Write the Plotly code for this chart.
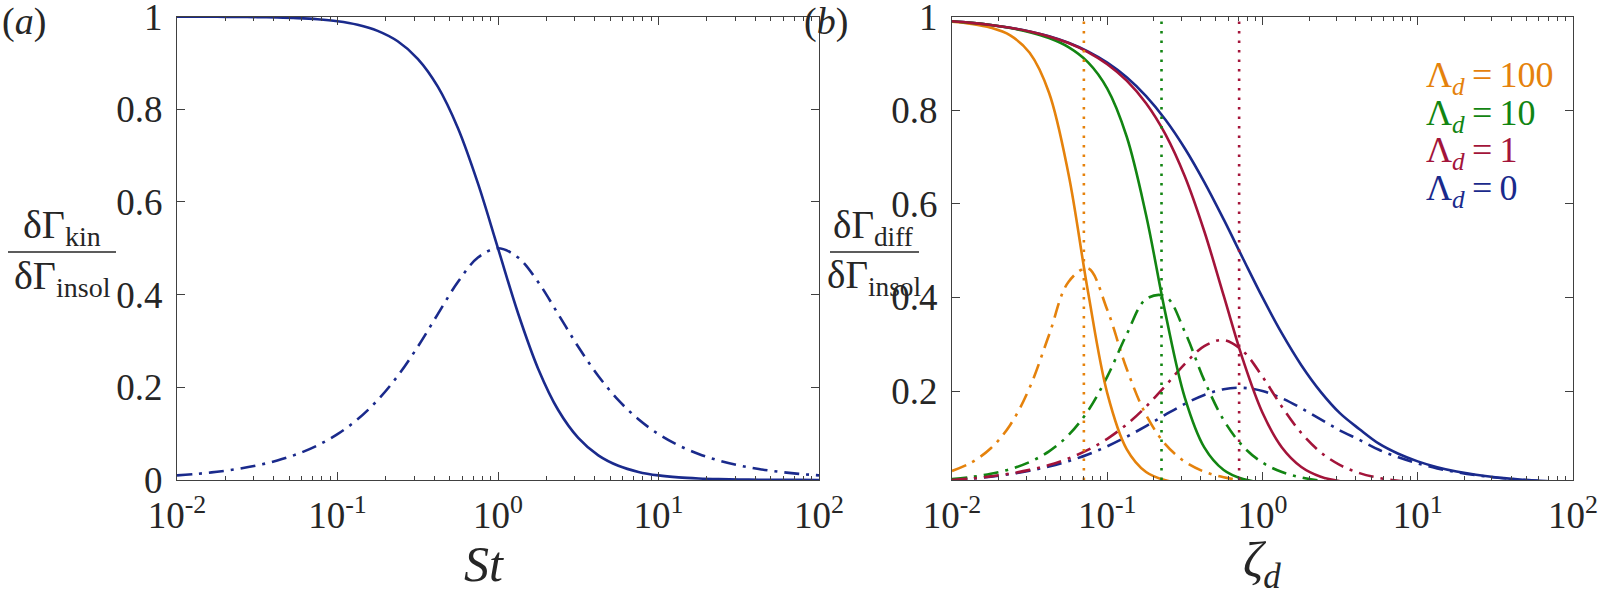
import plotly.graph_objects as go

# ---------------- data ----------------
ST = [0.01, 0.013335, 0.017783, 0.023714, 0.031623, 0.04217, 0.056234, 0.074989,
      0.1, 0.13335, 0.17783, 0.23714, 0.31623, 0.4217, 0.56234, 0.74989,
      1.0, 1.3335, 1.7783, 2.3714, 3.1623, 4.217, 5.6234, 7.4989,
      10.0, 13.335, 17.783, 23.714, 31.623, 42.17, 56.234, 74.989, 100.0]
KIN_SOLID = [0.9999, 0.9998, 0.9997, 0.9994, 0.9990, 0.9982, 0.9968, 0.9944,
             0.9901, 0.9825, 0.9693, 0.9468, 0.9091, 0.8490, 0.7597, 0.6401,
             0.5000, 0.3599, 0.2403, 0.1510, 0.0909, 0.0532, 0.0307, 0.0175,
             0.0099, 0.0056, 0.0032, 0.0018, 0.0010, 0.0006, 0.0003, 0.0002, 0.0001]
KIN_DASHDOT = [0.0100, 0.0133, 0.0178, 0.0237, 0.0316, 0.0421, 0.0561, 0.0746,
               0.0990, 0.1310, 0.1724, 0.2245, 0.2875, 0.3580, 0.4272, 0.4800,
               0.5000, 0.4800, 0.4272, 0.3580, 0.2875, 0.2245, 0.1724, 0.1310,
               0.0990, 0.0746, 0.0561, 0.0421, 0.0316, 0.0237, 0.0178, 0.0133, 0.0100]

ZETA = ST[:]  # same logarithmic sampling for panel (b)

# Lambda_d = 0
DIFF_L0_SOLID = [0.9900, 0.9867, 0.9822, 0.9763, 0.9684, 0.9580, 0.9441, 0.9257,
                 0.9016, 0.8703, 0.8301, 0.7797, 0.7183, 0.6465, 0.5667, 0.4828,
                 0.4000, 0.3231, 0.2553, 0.1984, 0.1523, 0.1186, 0.0877, 0.0662,
                 0.0498, 0.0374, 0.0281, 0.0211, 0.0158, 0.0119, 0.0089, 0.0067, 0.0050]
DIFF_L0_DASHDOT = [0.0098, 0.0130, 0.0172, 0.0226, 0.0297, 0.0388, 0.0503, 0.0646,
                   0.0820, 0.1024, 0.1253, 0.1495, 0.1726, 0.1918, 0.2040, 0.2069,
                   0.2000, 0.1846, 0.1634, 0.1396, 0.1157, 0.0958, 0.0745, 0.0584,
                   0.0453, 0.0348, 0.0266, 0.0202, 0.0153, 0.0116, 0.0087, 0.0066, 0.0050]
# Lambda_d = 1
DIFF_L1_SOLID = [0.9900, 0.9867, 0.9822, 0.9763, 0.9683, 0.9577, 0.9435, 0.9243,
                 0.8984, 0.8632, 0.8149, 0.7485, 0.6585, 0.5415, 0.4039, 0.2661,
                 0.1538, 0.0795, 0.0379, 0.0171, 0.0075, 0.0032, 0.0014, 0.0006, 0.0002]
DIFF_L1_DASHDOT = [0.0100, 0.0133, 0.0178, 0.0237, 0.0316, 0.0420, 0.0559, 0.0742,
                   0.0980, 0.1287, 0.1668, 0.2115, 0.2583, 0.2961, 0.3089, 0.2851,
                   0.2308, 0.1666, 0.1104, 0.0692, 0.0418, 0.0247, 0.0144, 0.0083, 0.0048]
# Lambda_d = 10
DIFF_L10_SOLID = [0.9900, 0.9866, 0.9820, 0.9757, 0.9669, 0.9542, 0.9348, 0.9028,
                  0.8462, 0.7439, 0.5763, 0.3655, 0.1855, 0.0797, 0.0313, 0.0119,
                  0.0045, 0.0017, 0.0007, 0.0003, 0.0001]
DIFF_L10_DASHDOT = [0.0118, 0.0164, 0.0233, 0.0333, 0.0484, 0.0712, 0.1057, 0.1574,
                    0.2308, 0.3210, 0.3965, 0.4023, 0.3264, 0.2229, 0.1381, 0.0816,
                    0.0472, 0.0270, 0.0154, 0.0087, 0.0049]
# Lambda_d = 100
DIFF_L100_SOLID = [0.9892, 0.9846, 0.9763, 0.9599, 0.9228, 0.8375, 0.6643, 0.4143,
                   0.1957, 0.0761, 0.0270, 0.0093, 0.0032, 0.0011]
DIFF_L100_DASHDOT = [0.0294, 0.0475, 0.0777, 0.1277, 0.2072, 0.3197, 0.4332, 0.4623,
                     0.3737, 0.2477, 0.1489, 0.0861, 0.0490, 0.0277, 0.0157, 0.0088]

CRIT_ZETA = [0.0707, 0.2236, 0.7071]          # dotted verticals, Lambda_d = 100, 10, 1
LAMBDA_TEXT = ["100", "10", "1", "0"]

XTICK_VALS = [0.01, 0.1, 1, 10, 100]
XTICK_TEXT = ["10<sup>-2</sup>", "10<sup>-1</sup>", "10<sup>0</sup>", "10<sup>1</sup>", "10<sup>2</sup>"]
YTICK_A = [0, 0.2, 0.4, 0.6, 0.8, 1]
YTICK_B = [0.2, 0.4, 0.6, 0.8, 1]

# ---------------- styling ----------------
BLUE = "#1a2a8c"
ORANGE = "#e5820c"
GREEN = "#128512"
RED = "#a3143a"
AXC = "#404040"
TXT = "#262626"
FONT = "Liberation Serif, Times New Roman, serif"
LW = 2.6
DASHDOT = "15px,7px,3px,7px"
DOT = "2.5px,7px"
YMIN_B = 0.01
YMAX = 1.0003

W, H = 1612, 595


def px(x):
    return x / W


def py(y):
    return 1 - y / H


fig = go.Figure()

# panel (a)
fig.add_trace(go.Scatter(x=ST, y=KIN_SOLID, mode="lines", line=dict(color=BLUE, width=LW, shape="spline"),
                         xaxis="x", yaxis="y", showlegend=False))
fig.add_trace(go.Scatter(x=ST, y=KIN_DASHDOT, mode="lines",
                         line=dict(color=BLUE, width=LW, dash=DASHDOT, shape="spline"),
                         xaxis="x", yaxis="y", showlegend=False))

# panel (b)
series = [
    (DIFF_L0_SOLID, DIFF_L0_DASHDOT, BLUE),
    (DIFF_L100_SOLID, DIFF_L100_DASHDOT, ORANGE),
    (DIFF_L10_SOLID, DIFF_L10_DASHDOT, GREEN),
    (DIFF_L1_SOLID, DIFF_L1_DASHDOT, RED),
]
for solid, dd, col in series:
    fig.add_trace(go.Scatter(x=ZETA[:len(dd)], y=dd, mode="lines",
                             line=dict(color=col, width=LW, dash=DASHDOT, shape="spline"),
                             xaxis="x2", yaxis="y2", showlegend=False))
for solid, dd, col in series:
    fig.add_trace(go.Scatter(x=ZETA[:len(solid)], y=solid, mode="lines",
                             line=dict(color=col, width=LW, shape="spline"),
                             xaxis="x2", yaxis="y2", showlegend=False))
for zc, col in zip(CRIT_ZETA, [ORANGE, GREEN, RED]):
    fig.add_trace(go.Scatter(x=[zc, zc], y=[YMIN_B, 1], mode="lines",
                             line=dict(color=col, width=LW, dash=DOT),
                             xaxis="x2", yaxis="y2", showlegend=False))

ydom = [py(480), py(16.5)]
common_x = dict(type="log", range=[-2, 2], tickmode="array", tickvals=XTICK_VALS, ticktext=XTICK_TEXT,
                ticks="inside", ticklen=8, tickwidth=1, tickcolor=AXC, showline=True, linecolor=AXC,
                linewidth=1, mirror="ticks", showgrid=False, zeroline=False, automargin=False,
                tickfont=dict(family=FONT, size=37, color=TXT), ticklabelstandoff=3,
                ticklabeloverflow="allow",
                minor=dict(ticks="inside", ticklen=4, tickcolor=AXC, dtick="D1", showgrid=False))
common_y = dict(ticks="inside", ticklen=8, tickwidth=1, tickcolor=AXC, showline=True, linecolor=AXC,
                linewidth=1, mirror="ticks", showgrid=False, zeroline=False, automargin=False,
                tickfont=dict(family=FONT, size=37, color=TXT), ticklabelstandoff=6,
                ticklabeloverflow="allow")

fig.update_layout(
    width=W, height=H, margin=dict(l=0, r=0, t=0, b=0, autoexpand=False),
    paper_bgcolor="white", plot_bgcolor="white", showlegend=False,
    xaxis=dict(domain=[px(177), px(819)], anchor="y", **common_x),
    yaxis=dict(domain=ydom, anchor="x", range=[0, YMAX], tickmode="array", tickvals=YTICK_A, **common_y),
    xaxis2=dict(domain=[px(952), px(1573)], anchor="y2", **common_x),
    yaxis2=dict(domain=ydom, anchor="x2", range=[YMIN_B, YMAX], tickmode="array", tickvals=YTICK_B, **common_y),
)


def ann(text, x, y, size, color=TXT, xanchor="center"):
    fig.add_annotation(text=text, x=px(x), y=py(y), xref="paper", yref="paper",
                       showarrow=False, xanchor=xanchor, yanchor="middle",
                       font=dict(family=FONT, size=size, color=color))


# panel labels
ann("(<i>a</i>)", 24, 22, 38)
ann("(<i>b</i>)", 826, 22, 38)
# x titles
ann("<i>St</i>", 484, 564, 50)
ann("<i>ζ<sub>d</sub></i>", 1262, 564, 50)
# y titles as fractions
ann("δΓ<sub>kin</sub>", 62, 227, 40)
ann("δΓ<sub>insol</sub>", 62, 278, 40)
ann("δΓ<sub>diff</sub>", 874, 227, 39)
ann("δΓ<sub>insol</sub>", 874, 277, 39)
fig.add_shape(type="line", xref="paper", yref="paper", x0=px(8), x1=px(116),
              y0=py(252), y1=py(252), line=dict(color=TXT, width=1.5))
fig.add_shape(type="line", xref="paper", yref="paper", x0=px(830), x1=px(919),
              y0=py(252), y1=py(252), line=dict(color=TXT, width=1.5))
# legend texts
for i, (lab, col) in enumerate(zip(LAMBDA_TEXT, [ORANGE, GREEN, RED, BLUE])):
    ann("Λ<sub><i>d</i></sub>\u2009=\u2009" + lab, 1424, 78 + 37.5 * i, 36, color=col, xanchor="left")

# the page body has a default 8px margin; remove it so the figure fills the window
fig.write_html("out.html", config={"displayModeBar": False},
               post_script="document.body.style.margin='0px';")
